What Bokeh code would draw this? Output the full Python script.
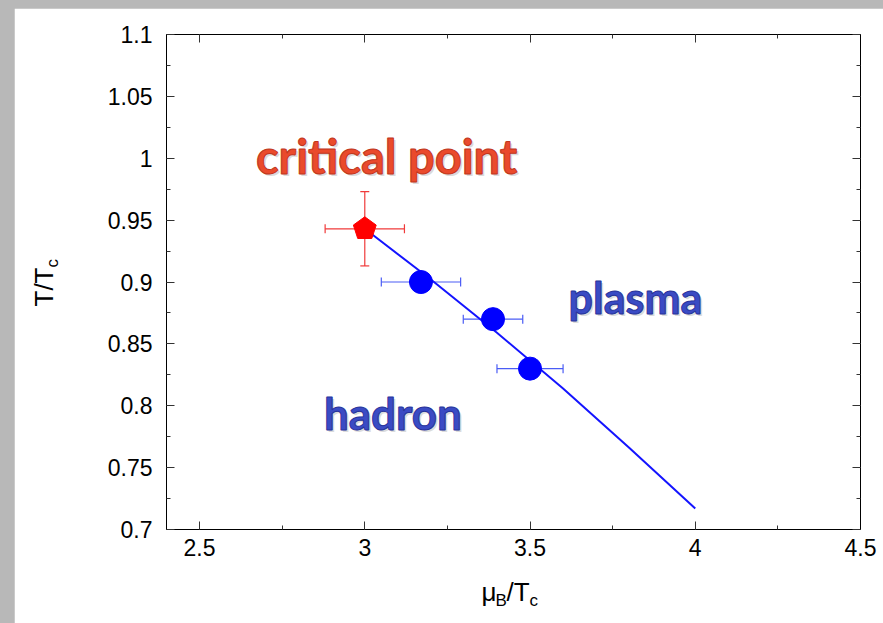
import math
from bokeh.plotting import figure
from bokeh.models import (Label, LinearAxis, FixedTicker, Whisker, ColumnDataSource, TeeHead,
                          CustomLabelingPolicy, GlobalInlineStyleSheet)
from bokeh.embed import file_html
from bokeh.resources import INLINE

# ---- data ----
cp_mu = [3.0]
cp_T = [0.943]
cp_mu_err = [0.12]
cp_T_err = [0.030]

pts_mu = [3.17, 3.388, 3.50]
pts_T = [0.900, 0.870, 0.830]
pts_mu_err = [0.12, 0.09, 0.10]

line_mu = [3.0, 3.2, 3.4, 3.6, 3.8, 4.0]
line_T = [0.943, 0.902, 0.859, 0.814, 0.766, 0.717]

x_ticks = [2.5, 3.0, 3.5, 4.0, 4.5]
x_tick_labels = ["2.5", "3", "3.5", "4", "4.5"]
x_minor = [2.5, 2.75, 3.0, 3.25, 3.5, 3.75, 4.0, 4.25, 4.5]
y_ticks = [0.7, 0.75, 0.8, 0.85, 0.9, 0.95, 1.0, 1.05, 1.1]
y_tick_labels = ["0.7", "0.75", "0.8", "0.85", "0.9", "0.95", "1", "1.05", "1.1"]
y_minor = [0.7, 0.725, 0.75, 0.775, 0.8, 0.825, 0.85, 0.875, 0.9, 0.925,
           0.95, 0.975, 1.0, 1.025, 1.05, 1.075, 1.1]

region_labels = ["critical point", "plasma", "hadron"]
region_mu = [3.066, 3.819, 3.085]
region_T = [1.0022, 0.8875, 0.7945]

TICK_FONT = "Liberation Sans"

p = figure(width=869, height=615, x_range=(2.4, 4.5), y_range=(0.7, 1.1),
           output_backend="svg", toolbar_location=None,
           min_border_left=152, min_border_right=23, min_border_top=26, min_border_bottom=94)
p.margin = (8, 0, 0, 14)
p.stylesheets = [GlobalInlineStyleSheet(css="html, body { background-color: #b8b8b8; overflow: hidden; }")]
p.xgrid.visible = False
p.ygrid.visible = False
p.outline_line_color = "black"
p.background_fill_color = "white"
p.border_fill_color = "white"

xt = FixedTicker(ticks=x_ticks, minor_ticks=x_minor)
yt = FixedTicker(ticks=y_ticks, minor_ticks=y_minor)

p.add_layout(LinearAxis(), "right")
p.add_layout(LinearAxis(), "above")

for ax in p.xaxis:
    ax.ticker = xt
for ax in p.yaxis:
    ax.ticker = yt

for ax in p.xaxis + p.yaxis:
    ax.axis_line_color = "black"
    ax.major_tick_line_color = "#333333"
    ax.minor_tick_line_color = "#333333"
    ax.major_tick_in = 8
    ax.major_tick_out = 0
    ax.minor_tick_in = 4
    ax.minor_tick_out = 0
    ax.major_label_text_font = TICK_FONT
    ax.major_label_text_font_size = "23px"
    ax.major_label_text_color = "black"

p.below[0].major_label_overrides = dict(zip(x_ticks, x_tick_labels))
p.below[0].major_label_standoff = 9
p.left[0].major_label_overrides = dict(zip(y_ticks, y_tick_labels))
p.left[0].major_label_standoff = 14
no_labels = CustomLabelingPolicy(code="return new Set()")
for ax in (p.right[0], p.above[0]):
    ax.major_label_policy = no_labels
    ax.major_label_standoff = 0
    ax.major_label_text_font_size = "1px"

# ---- error bars ----
cp_src = ColumnDataSource(dict(mu=cp_mu, T=cp_T,
                               mlo=[m - e for m, e in zip(cp_mu, cp_mu_err)],
                               mhi=[m + e for m, e in zip(cp_mu, cp_mu_err)],
                               tlo=[t - e for t, e in zip(cp_T, cp_T_err)],
                               thi=[t + e for t, e in zip(cp_T, cp_T_err)]))
pt_src = ColumnDataSource(dict(mu=pts_mu, T=pts_T,
                               mlo=[m - e for m, e in zip(pts_mu, pts_mu_err)],
                               mhi=[m + e for m, e in zip(pts_mu, pts_mu_err)]))

RED_BAR = "#f03a3a"
BLUE_BAR = "#4a5cf5"

def tee(c):
    return TeeHead(size=9, line_color=c, line_width=1.2)

p.add_layout(Whisker(source=cp_src, base="T", lower="mlo", upper="mhi", dimension="width",
                     line_color=RED_BAR, line_width=1.2, upper_head=tee(RED_BAR), lower_head=tee(RED_BAR)))
p.add_layout(Whisker(source=cp_src, base="mu", lower="tlo", upper="thi", dimension="height",
                     line_color=RED_BAR, line_width=1.2, upper_head=tee(RED_BAR), lower_head=tee(RED_BAR)))
p.add_layout(Whisker(source=pt_src, base="T", lower="mlo", upper="mhi", dimension="width",
                     line_color=BLUE_BAR, line_width=1.2, upper_head=tee(BLUE_BAR), lower_head=tee(BLUE_BAR)))

# ---- line and markers ----
p.line(line_mu, line_T, line_color="#1414ff", line_width=2)
p.scatter("mu", "T", source=pt_src, size=23, marker="circle",
          fill_color="#0000ff", line_color="#0000ff")
p.ngon(x="mu", y="T", source=cp_src, radius=12, radius_units="screen", n=5,
       angle=0, fill_color="#ff0000", line_color="#ff0000")

# ---- region labels ----
styles = [("#ea4a2c", "#c0361c", "47px"), ("#3a4bc4", "#27339a", "43px"), ("#3a4bc4", "#27339a", "44px")]
for txt, mx, ty, (col, ocol, fs) in zip(region_labels, region_mu, region_T, styles):
    p.add_layout(Label(x=mx, y=ty, text=txt, text_align="center", text_baseline="alphabetic",
                       x_offset=2, y_offset=-2,
                       text_font="Lato", text_font_style="bold", text_font_size=fs,
                       text_color="#999999", text_alpha=0.35))
    p.add_layout(Label(x=mx, y=ty, text=txt, text_align="center", text_baseline="alphabetic",
                       text_font="Lato", text_font_style="bold", text_font_size=fs,
                       text_color=col, text_outline_color=ocol))

# ---- axis titles (with subscripts), spread over side panels with spare room ----
xl_x, xl_y = 3.3531, 0.6491
for txt, dx, dy, fs, place in [("μ", 0, 0, "26px", "left"), ("B", 14, -8, "17px", "above"),
                               ("/T", 25, 0, "26px", "below"), ("c", 48, -8, "17px", "below")]:
    p.add_layout(Label(x=xl_x, y=xl_y, text=txt, x_offset=dx, y_offset=dy,
                       text_font=TICK_FONT, text_font_size=fs, text_align="left",
                       text_baseline="middle", text_color="black"), place)
yl_x, yl_y = 2.0298, 0.8802
for txt, dx, dy, fs in [("T/T", 0, 0, "26px"), ("c", 8, 39, "17px")]:
    p.add_layout(Label(x=yl_x, y=yl_y, text=txt, x_offset=dx, y_offset=dy, angle=math.pi / 2,
                       text_font=TICK_FONT, text_font_size=fs, text_align="left",
                       text_baseline="middle", text_color="black"), "left")

open("out.html", "w").write(file_html(p, INLINE))
